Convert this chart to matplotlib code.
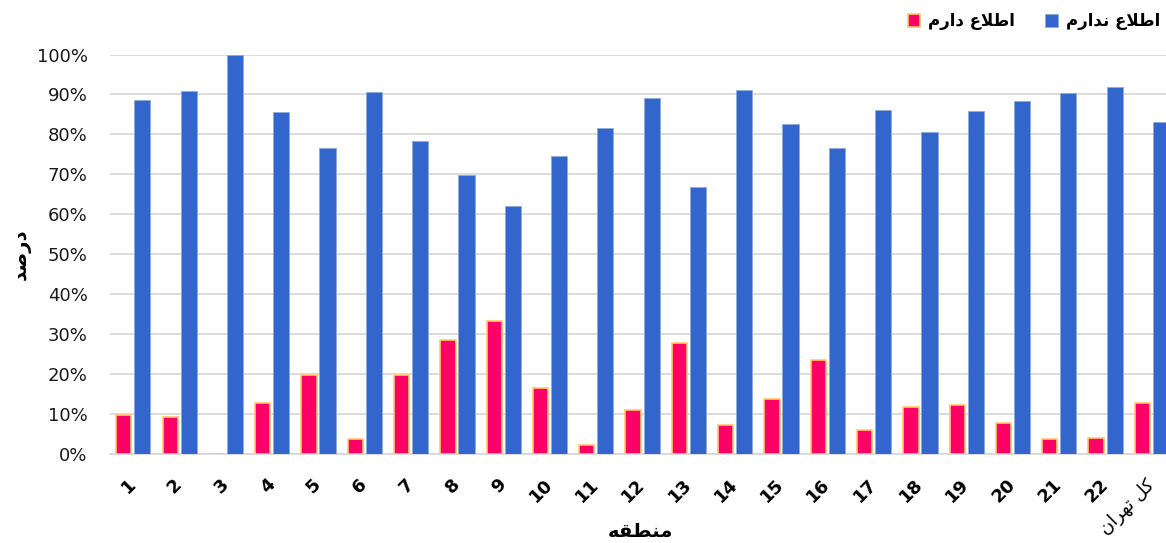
import matplotlib
matplotlib.use("Agg")
import matplotlib.pyplot as plt
import numpy as np

# data
regions = [str(i) for i in range(1, 23)] + ["کل تهران"]
aware = [9.8, 9.3, 0.0, 12.7, 19.9, 3.8, 19.9, 28.5, 33.3, 16.5, 2.3, 11.0,
         27.7, 7.2, 13.7, 23.5, 5.9, 11.7, 12.2, 7.8, 3.8, 4.1, 12.8]
unaware = [88.5, 90.9, 100.0, 85.7, 76.6, 90.7, 78.3, 69.8, 62.1, 74.5, 81.6, 89.1,
           66.8, 91.1, 82.5, 76.5, 86.2, 80.6, 85.9, 88.4, 90.3, 91.8, 83.1]
yticks = list(range(0, 101, 10))

aware_label = "اطلاع دارم"
unaware_label = "اطلاع ندارم"
x_title = "منطقه"
y_title = "درصد"

# matplotlib has no arabic shaping, so pick presentation forms by hand
# (isolated, final, initial, medial); None = letter does not join forward
FORMS = {
    "ا": ("\uFE8D", "\uFE8E", None, None),
    "د": ("\uFEA9", "\uFEAA", None, None),
    "ر": ("\uFEAD", "\uFEAE", None, None),
    "ت": ("\uFE95", "\uFE96", "\uFE97", "\uFE98"),
    "ص": ("\uFEB9", "\uFEBA", "\uFEBB", "\uFEBC"),
    "ط": ("\uFEC1", "\uFEC2", "\uFEC3", "\uFEC4"),
    "ع": ("\uFEC9", "\uFECA", "\uFECB", "\uFECC"),
    "ق": ("\uFED5", "\uFED6", "\uFED7", "\uFED8"),
    "ک": ("\uFB8E", "\uFB8F", "\uFB90", "\uFB91"),
    "ل": ("\uFEDD", "\uFEDE", "\uFEDF", "\uFEE0"),
    "م": ("\uFEE1", "\uFEE2", "\uFEE3", "\uFEE4"),
    "ن": ("\uFEE5", "\uFEE6", "\uFEE7", "\uFEE8"),
    "ه": ("\uFEE9", "\uFEEA", "\uFEEB", "\uFEEC"),
}


def shape(text):
    if not any(c in FORMS for c in text):
        return text  # plain numbers stay as they are

    def dual(c):
        return c in FORMS and FORMS[c][2] is not None

    out = []
    i = 0
    n = len(text)
    while i < n:
        c = text[i]
        prev = text[i - 1] if i > 0 else ""
        link_prev = dual(prev) and c in FORMS
        if c == "ل" and i + 1 < n and text[i + 1] == "ا":
            out.append("\uFEFC" if link_prev else "\uFEFB")
            i += 2
            continue
        if c not in FORMS:
            out.append(c)
            i += 1
            continue
        nxt = text[i + 1] if i + 1 < n else ""
        link_next = dual(c) and nxt in FORMS
        iso, fin, ini, med = FORMS[c]
        if link_prev and link_next:
            out.append(med)
        elif link_prev:
            out.append(fin)
        elif link_next:
            out.append(ini)
        else:
            out.append(iso)
        i += 1
    return "".join(reversed(out))


plt.rcParams["font.family"] = ["DejaVu Sans"]

fig = plt.figure(figsize=(11.66, 5.43), dpi=100)
ax = fig.add_axes([0.0943, 0.1639, 0.9057, 0.7357])

x = np.arange(len(regions))
ax.bar(x - 0.2, aware, 0.33, color="#FF0066", edgecolor="#FFC96B",
       linewidth=1.2, label=shape(aware_label), zorder=3)
ax.bar(x + 0.2, unaware, 0.35, color="#3366CC", edgecolor="#8FAADC",
       linewidth=0.6, label=shape(unaware_label), zorder=3)

ax.set_xlim(-0.5, 22.31)
ax.set_ylim(0, 100)
ax.set_yticks(yticks)
ax.set_yticklabels([f"{v}%" for v in yticks], fontsize=13, color="#1a1a1a")
ax.set_xticks(x)
ax.set_xticklabels([shape(r) for r in regions], rotation=45, ha="right",
                   va="center", rotation_mode="anchor", fontsize=13,
                   fontweight="bold")
# the last label (whole city) is not bold in the original
last = ax.get_xticklabels()[-1]
last.set_fontweight("normal")
last.set_fontsize(13)
ax.tick_params(length=0)
ax.tick_params(axis="y", pad=16)
ax.tick_params(axis="x", pad=20)

ax.yaxis.grid(True, color="#d9d9d9", linewidth=1.3)
ax.set_axisbelow(True)
for side in ["left", "right", "top"]:
    ax.spines[side].set_visible(False)
ax.spines["bottom"].set_color("#d9d9d9")
ax.spines["bottom"].set_linewidth(1.3)

fig.text(0.018, 0.532, shape(y_title), rotation=90, ha="center", va="center",
         fontsize=14, fontweight="bold")
fig.text(0.549, 0.022, shape(x_title), ha="center", va="center",
         fontsize=14, fontweight="bold")

fig.legend(loc="upper right", bbox_to_anchor=(1.008, 1.005), ncol=2,
           frameon=False, prop={"weight": "bold", "size": 12},
           handlelength=0.75, handleheight=0.75, columnspacing=1.8,
           handletextpad=0.5)

fig.savefig("out.png", dpi=100)
